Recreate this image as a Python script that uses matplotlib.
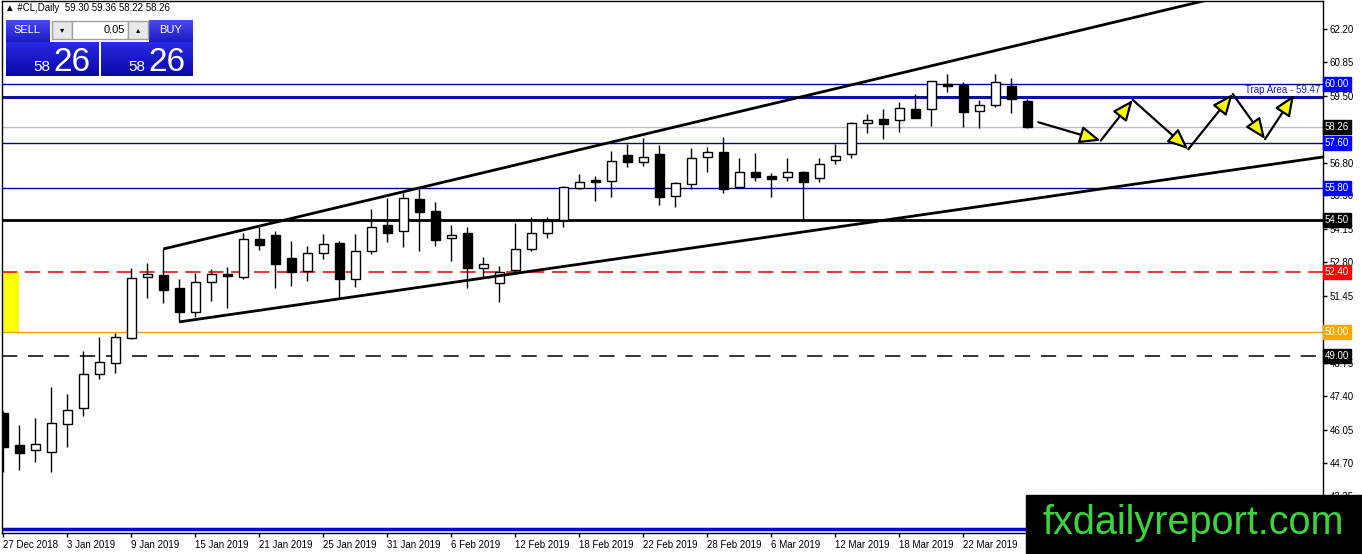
import matplotlib
matplotlib.use("Agg")
import matplotlib.pyplot as plt
import matplotlib.transforms as mtransforms
from matplotlib.patches import Rectangle
import numpy as np
import pandas as pd

# daily bars, 27 Dec 2018 .. 28 Mar 2019 (no 1 Jan bar)
dates = pd.bdate_range("2018-12-27", "2019-03-28")
dates = dates[dates != pd.Timestamp("2019-01-01")]

opens = [46.72, 45.43, 45.22, 45.14, 46.27, 46.92, 48.29, 48.73, 49.74, 52.20,
         52.28, 51.76, 50.79, 52.00, 52.32, 52.20, 53.73, 53.89, 52.97, 52.44,
         53.17, 53.57, 52.12, 53.25, 54.30, 54.05, 55.35, 54.86, 53.77, 53.97,
         52.56, 51.96, 52.48, 53.33, 53.97, 54.50, 55.79, 56.11, 56.07, 57.12,
         56.84, 57.16, 55.47, 55.95, 57.04, 57.24, 55.83, 56.43, 56.27, 56.23,
         56.43, 56.19, 56.92, 57.16, 58.41, 58.57, 58.53, 58.97, 58.97, 59.98,
         59.94, 58.89, 59.14, 59.90, 59.30]
highs = [46.80, 46.23, 46.51, 47.76, 47.48, 49.22, 49.78, 49.94, 52.56, 52.76,
         53.33, 52.12, 52.36, 52.52, 52.60, 53.97, 54.22, 54.05, 53.65, 53.45,
         53.93, 53.65, 53.93, 54.94, 55.39, 55.59, 55.75, 55.22, 54.30, 54.22,
         53.01, 52.64, 54.38, 54.62, 54.62, 55.87, 56.35, 56.27, 57.28, 57.56,
         57.80, 57.52, 56.03, 57.40, 57.44, 57.85, 57.00, 57.20, 56.39, 57.00,
         56.47, 57.00, 57.56, 58.45, 58.77, 58.97, 59.26, 59.58, 60.12, 60.39,
         60.06, 59.34, 60.39, 60.22, 59.36]
lows = [44.34, 44.42, 44.74, 44.34, 45.35, 46.60, 48.09, 48.33, 49.70, 51.35,
        51.15, 50.39, 50.59, 51.23, 50.95, 52.12, 53.29, 51.76, 51.84, 52.04,
        52.93, 51.35, 51.80, 53.13, 53.61, 53.41, 53.25, 53.45, 52.85, 51.76,
        52.20, 51.19, 52.40, 53.25, 53.77, 54.22, 55.75, 55.26, 55.43, 56.64,
        56.68, 55.10, 55.02, 55.75, 56.43, 55.59, 55.79, 56.07, 55.43, 56.07,
        54.50, 56.03, 56.76, 57.00, 58.01, 57.76, 58.05, 58.60, 58.29, 59.66,
        58.25, 58.21, 59.05, 58.81, 58.22]
closes = [45.35, 45.10, 45.47, 46.31, 46.84, 48.29, 48.77, 49.78, 52.16, 52.32,
          51.68, 50.79, 52.00, 52.32, 52.24, 53.73, 53.49, 52.72, 52.40, 53.17,
          53.53, 52.12, 53.25, 54.22, 53.97, 55.39, 54.82, 53.69, 53.89, 52.56,
          52.72, 52.40, 53.33, 53.97, 54.46, 55.83, 56.03, 56.03, 56.88, 56.84,
          57.04, 55.43, 55.99, 57.00, 57.24, 55.75, 56.43, 56.23, 56.15, 56.43,
          56.03, 56.76, 57.08, 58.41, 58.53, 58.37, 59.01, 58.61, 60.10, 59.90,
          58.85, 59.14, 60.06, 59.38, 58.26]

# horizontal levels and their right-hand price tags
levels = [60.00, 58.26, 57.60, 55.80, 54.50, 52.40, 50.00, 49.00]
level_tags = ["60.00", "58.26", "57.60", "55.80", "54.50", "52.40", "50.00", "49.00"]
trap_level = 59.47
bottom_level = 42.05

# scale labels that stay visible (58.15 and 50.10 sit under the tags)
price_ticks = [62.20, 60.85, 59.50, 56.80, 55.50, 54.15, 52.80, 51.45,
               48.75, 47.40, 46.05, 44.70, 43.35]

# channel anchor points (bar index, price)
upper_channel = [(10, 53.33), (74.48, 63.25)]
lower_channel = [(11, 50.39), (82.48, 57.04)]

# projected zigzag path
zz_x = [64.69, 68.59, 70.59, 74.06, 76.84, 78.86, 80.67]
zz_y = [58.44, 57.70, 59.34, 57.35, 59.58, 57.76, 59.54]

W, H = 1362, 554
FONT = ["Liberation Sans", "DejaVu Sans"]
plt.rcParams["font.family"] = FONT

fig = plt.figure(figsize=(W / 100, H / 100), dpi=100, facecolor="white")
ax = fig.add_axes([2 / W, 21 / H, 1321 / W, 532 / H])

n = len(opens)
x = np.arange(n)
o = np.array(opens); c = np.array(closes)
hi = np.array(highs); lo = np.array(lows)
up = c >= o

# candles
ax.vlines(x, lo, hi, color="black", lw=1, zorder=3)
body_bot = np.minimum(o, c)
body_h = np.maximum(np.abs(c - o), 0.03)
ax.bar(x[up], body_h[up], bottom=body_bot[up], width=0.6,
       facecolor="white", edgecolor="black", lw=1, zorder=4)
ax.bar(x[~up], body_h[~up], bottom=body_bot[~up], width=0.6,
       facecolor="black", edgecolor="black", lw=1, zorder=4)

# horizontal lines
ax.axhline(60.00, color="#00008b", lw=1, zorder=2)
ax.axhline(trap_level, color="#10109a", lw=2.2, zorder=2)
ax.axhline(58.26, color="#c0c0c0", lw=1, zorder=1)
ax.axhline(57.60, color="#00008b", lw=1, zorder=2)
ax.axhline(55.80, color="#00008b", lw=1, zorder=2)
ax.axhline(54.50, color="black", lw=2, zorder=2)
ax.axhline(52.40, color="#e00000", lw=1.1, ls=(0, (10, 5)), zorder=2)
ax.axhline(50.00, color="#e8a800", lw=1, zorder=2)
ax.axhline(49.00, color="black", lw=1.1, ls=(0, (10, 7)), zorder=2)
ax.axhline(bottom_level, color="#0000c8", lw=2.5, zorder=2)

# yellow zone at the left edge between 50.00 and 52.40
ax.add_patch(Rectangle((-1, 50.00), 1.98, 2.40, facecolor="#ffff00",
                       edgecolor="none", zorder=1))

# channel lines, extended and clipped by the axes
for (x0, y0), (x1, y1) in (upper_channel, lower_channel):
    slope = (y1 - y0) / (x1 - x0)
    xe = 95
    ax.plot([x0, xe], [y0, y0 + slope * (xe - x0)], color="black", lw=2, zorder=5,
            solid_capstyle="butt")

# zigzag arrows
for i in range(len(zz_x) - 1):
    ax.annotate("", xy=(zz_x[i + 1], zz_y[i + 1]), xytext=(zz_x[i], zz_y[i]),
                arrowprops=dict(arrowstyle="-|>,head_length=0.9,head_width=0.38",
                                fc="#ffff00", ec="black", lw=1.6,
                                shrinkA=0, shrinkB=0, mutation_scale=14),
                zorder=6)

ax.set_xlim((2 - 3.3) / 16, (1323 - 3.3) / 16)
ax.set_ylim(62.2 - 504 / 24.8, 62.2 + 28 / 24.8)

# axes styling
for s in ax.spines.values():
    s.set_color("black")
    s.set_linewidth(1)
ax.yaxis.tick_right()
ax.set_yticks(price_ticks)
ax.set_yticklabels([f"{p:.2f}" for p in price_ticks])
ax.tick_params(axis="y", direction="out", length=3, width=1, pad=2,
               labelsize=7, colors="black")

tick_idx = list(range(0, 61, 4))
ax.set_xticks(tick_idx)
ax.set_xticklabels([f"{dates[i].day} {dates[i]:%b %Y}" for i in tick_idx])
ax.tick_params(axis="x", direction="out", length=3, width=1, pad=2,
               labelsize=7, colors="black")
for t in ax.get_xticklabels():
    t.set_ha("left")

# price tags on the right axis
tag_colors = {"60.00": "#0000ff", "58.26": "black", "57.60": "#0000ff",
              "55.80": "#0000ff", "54.50": "black", "52.40": "#ff0000",
              "50.00": "#f5a800", "49.00": "black"}
trans = mtransforms.blended_transform_factory(ax.transAxes, ax.transData)
for lv, tag in zip(levels, level_tags):
    ax.text(1.0015, lv, tag, transform=trans, ha="left", va="center",
            fontsize=7, color="white", clip_on=False, zorder=10,
            bbox=dict(boxstyle="square,pad=0.2", fc=tag_colors[tag],
                      ec=tag_colors[tag]))
ax.text(1318 / 1321, trap_level + 0.07, "Trap Area - 59.47", transform=trans,
        ha="right", va="bottom", fontsize=7, color="#1a1ac8", zorder=10)


# ---- trade panel (figure pixel coordinates, y from top) ----
def fx(px):
    return px / W


def fy(py):
    return 1 - py / H


def grad_box(x0, y0, w, h, top, bot, z=20):
    top = np.array(matplotlib.colors.to_rgb(top))
    bot = np.array(matplotlib.colors.to_rgb(bot))
    col = np.linspace(top, bot, h)[:, None, :]
    arr = np.repeat(col, w, axis=1)
    fig.figimage(arr, xo=x0, yo=H - (y0 + h), origin="upper", zorder=z)


def box(x0, y0, w, h, fc, ec, z=21):
    fig.add_artist(Rectangle((fx(x0), fy(y0 + h)), w / W, h / H, transform=fig.transFigure,
                             facecolor=fc, edgecolor=ec, lw=1, zorder=z))


def ftext(px, py, s, **kw):
    kw.setdefault("zorder", 30)
    fig.text(fx(px), fy(py), s, **kw)


ftext(5, 8, "\u25b2 #CL,Daily  59.30 59.36 58.22 58.26", fontsize=7, va="center",
      ha="left", color="black", family=["Liberation Sans", "DejaVu Sans"])

grad_box(6, 20, 44, 22, "#4a4af0", "#1a1ac8")
grad_box(149, 20, 44, 22, "#4a4af0", "#1a1ac8")
box(52, 21, 20, 18, "#e8e8e8", "#a0a0a0")
box(72, 21, 56, 18, "white", "#a0a0a0")
box(128, 21, 20, 18, "#e8e8e8", "#a0a0a0")
grad_box(6, 42, 93, 34, "#2a2ae0", "#0808a8")
grad_box(101, 42, 92, 34, "#2a2ae0", "#0808a8")

ftext(27, 30, "SELL", fontsize=8, color="white", ha="center", va="center")
ftext(171, 30, "BUY", fontsize=8, color="white", ha="center", va="center")
ftext(125, 30, "0.05", fontsize=8, color="black", ha="right", va="center")
ftext(62, 30, "\u25be", fontsize=6, color="black", ha="center", va="center",
      family=["DejaVu Sans"])
ftext(138, 30, "\u25b4", fontsize=6, color="black", ha="center", va="center",
      family=["DejaVu Sans"])
ftext(50, 71, "58", fontsize=11, color="white", ha="right", va="baseline")
ftext(53, 71, "26", fontsize=24, color="white", ha="left", va="baseline")
ftext(145, 71, "58", fontsize=11, color="white", ha="right", va="baseline")
ftext(148, 71, "26", fontsize=24, color="white", ha="left", va="baseline")

# watermark
box(1026, 495, 336, 59, "black", "black", z=40)
ftext(1193, 534, "fxdailyreport.com", fontsize=28.5, color="#3cd43c", ha="center",
      va="baseline", zorder=41)

fig.savefig("out.png", dpi=100, facecolor="white")
